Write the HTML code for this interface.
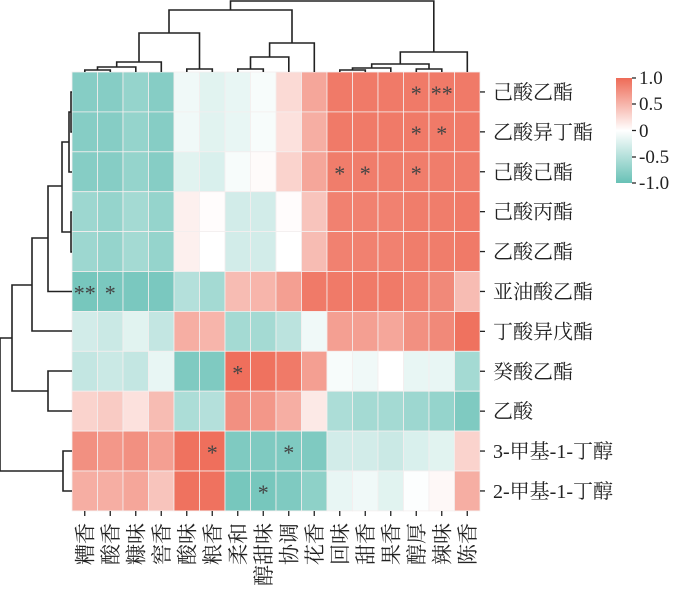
<!DOCTYPE html>
<html><head><meta charset="utf-8"><style>
html,body{margin:0;padding:0;background:#fff;}
svg{display:block;}
</style></head><body>
<svg id="s" width="677" height="591" xmlns="http://www.w3.org/2000/svg" font-family="'Liberation Serif','Noto Serif CJK SC',serif">
<defs><linearGradient id="cb" x1="0" y1="0" x2="0" y2="1">
<stop offset="0" stop-color="#ee6b57"/><stop offset="0.5" stop-color="#ffffff"/><stop offset="1" stop-color="#68c1b6"/>
</linearGradient></defs>
<g id="cells"></g>
<g stroke="#222" stroke-width="1.6" fill="none">
<path d="M84.8,72V70H110.3V72 M97.5,70V67H135.8V72 M116.7,67V62H161.3V72 M186.8,72V69H212.3V72 M139,62V33H199.5V69 M237.8,72V69H263.3V72 M250.5,69V57H288.8V72 M269.6,57V43H314.3V72 M169,33V10H292V43 M339.8,72V70H365.3V72 M352.5,70V68H390.8V72 M416.3,72V69H441.8V72 M371.7,68V64H429V69 M400.3,64V52H467.3V72 M230.5,10V1H433.8V52"/>
<path d="M72,92H71V132H72 M72,172H69V112H71 M72,212H71V252H72 M69,142H62V232H71 M72,291.5H48V186H62 M48,238H32V331H72 M72,371H48V411H72 M32,285H12V391H48 M72,451H63V491H72 M63,471H0V338H12"/>
</g>
<g id="ticks" stroke="#222" stroke-width="1.3"></g>
<g id="labels" font-size="20" fill="#222"></g>
<g id="clabels" font-size="21" fill="#222"></g>
<rect x="616" y="78" width="16" height="105" fill="url(#cb)"/>
<g stroke="#222" stroke-width="1.2"><path d="M632,78h4M632,104h4M632,130.5h4M632,157h4M632,183h4"/></g>
<g font-size="19" fill="#222">
<text x="639" y="84">1.0</text><text x="639" y="110">0.5</text><text x="639" y="137">0</text><text x="639" y="163">-0.5</text><text x="639" y="189">-1.0</text>
</g>
</svg>
<script>
var rows=["己酸乙酯","乙酸异丁酯","己酸己酯","己酸丙酯","乙酸乙酯","亚油酸乙酯","丁酸异戊酯","癸酸乙酯","乙酸","3-甲基-1-丁醇","2-甲基-1-丁醇"];
var cols=["糟香","酸香","糠味","窖香","酸味","粮香","柔和","醇甜味","协调","花香","回味","甜香","果香","醇厚","辣味","陈香"];
var V=[
[-0.8,-0.8,-0.7,-0.8,-0.1,-0.2,-0.15,-0.05,0.25,0.6,0.9,0.9,0.9,0.9,0.9,0.9],
[-0.8,-0.8,-0.7,-0.8,-0.1,-0.2,-0.15,-0.05,0.2,0.55,0.9,0.9,0.9,0.9,0.9,0.9],
[-0.8,-0.8,-0.7,-0.8,-0.2,-0.25,-0.05,0.03,0.3,0.6,0.88,0.88,0.88,0.88,0.88,0.88],
[-0.65,-0.7,-0.6,-0.7,0.1,0.02,-0.3,-0.3,0.02,0.4,0.85,0.85,0.85,0.88,0.88,0.9],
[-0.65,-0.7,-0.6,-0.7,0.1,0,-0.3,-0.3,0,0.45,0.85,0.85,0.85,0.88,0.88,0.9],
[-0.9,-0.88,-0.88,-0.88,-0.5,-0.6,0.45,0.5,0.65,0.9,0.9,0.9,0.9,0.85,0.8,0.45],
[-0.3,-0.35,-0.2,-0.4,0.55,0.5,-0.6,-0.6,-0.45,-0.1,0.65,0.65,0.6,0.75,0.8,0.95],
[-0.4,-0.35,-0.4,-0.15,-0.85,-0.85,0.97,0.95,0.9,0.65,-0.05,-0.1,0,-0.15,-0.15,-0.6],
[0.3,0.35,0.2,0.45,-0.55,-0.5,0.75,0.7,0.55,0.15,-0.55,-0.6,-0.6,-0.65,-0.7,-0.85],
[0.75,0.7,0.75,0.65,0.95,0.97,-0.85,-0.85,-0.85,-0.85,-0.3,-0.3,-0.35,-0.25,-0.2,0.3],
[0.55,0.55,0.6,0.4,0.95,0.95,-0.9,-0.9,-0.85,-0.75,-0.15,-0.1,-0.2,-0.02,0.05,0.55]];
var stars={"0,13":"*","0,14":"**","1,13":"*","1,14":"*","2,10":"*","2,11":"*","2,13":"*","5,0":"**","5,1":"*","7,6":"*","9,5":"*","9,8":"*","10,7":"*"};
function col(v){var a,b;if(v>=0){a=[255,255,255];b=[238,107,87];}else{a=[255,255,255];b=[104,193,182];v=-v;}
return "rgb("+a.map(function(x,i){return Math.round(x+(b[i]-x)*v)}).join(",")+")";}
var x0=72,y0=72,cw=25.5,rh=39.9,h="",t="",l="",cl="";
for(var r=0;r<11;r++)for(var c=0;c<16;c++){
h+='<rect x="'+(x0+c*cw)+'" y="'+(y0+r*rh)+'" width="'+cw+'" height="'+rh+'" fill="'+col(V[r][c])+'" stroke="#f4eeee" stroke-width="0.8"/>';
var s=stars[r+","+c];if(s)h+='<text x="'+(x0+(c+0.5)*cw)+'" y="'+(y0+(r+0.5)*rh+9)+'" font-size="22" text-anchor="middle" fill="#444" font-family="Liberation Serif,serif">'+s+'</text>';}
document.getElementById("cells").innerHTML=h;
for(var r=0;r<11;r++){var y=y0+(r+0.5)*rh;t+='<path d="M480,'+y+'h5"/>';l+='<text x="493" y="'+(y+7)+'">'+rows[r]+'</text>';}
for(var c=0;c<16;c++){var x=x0+(c+0.5)*cw;t+='<path d="M'+x+',511v5"/>';cl+='<text transform="translate('+(x+7.5)+',523) rotate(-90)" text-anchor="end">'+cols[c]+'</text>';}
document.getElementById("ticks").innerHTML=t;document.getElementById("labels").innerHTML=l;document.getElementById("clabels").innerHTML=cl;
</script>
</body></html>
